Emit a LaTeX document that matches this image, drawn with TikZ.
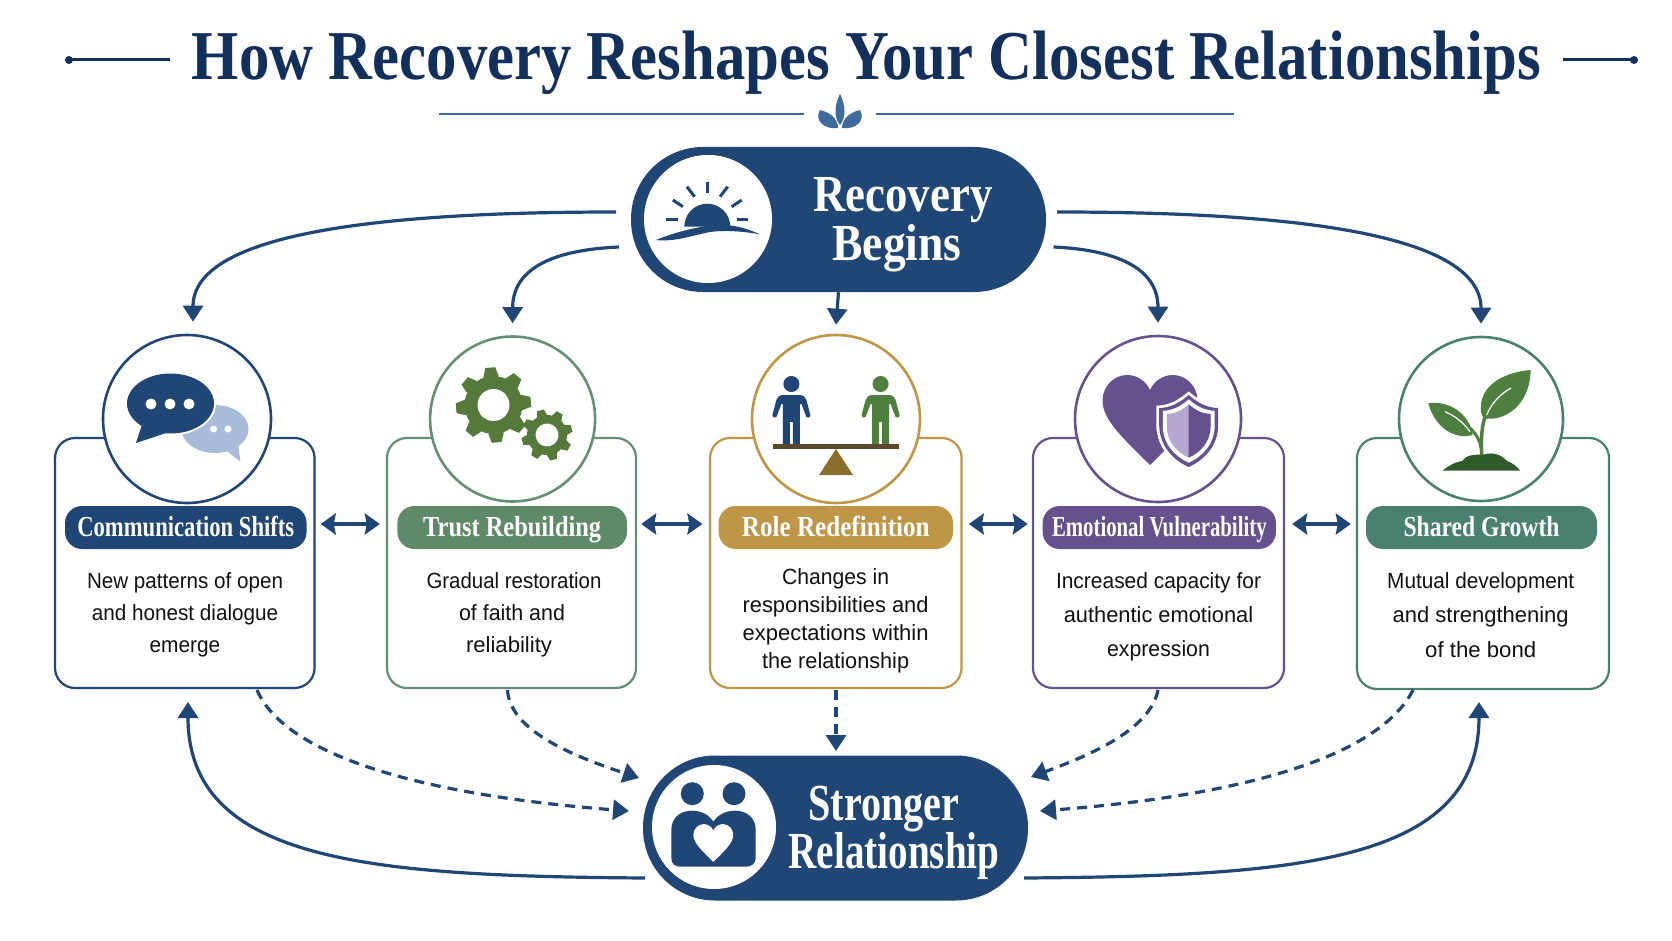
\documentclass[tikz,border=0pt]{standalone}
\usepackage{graphicx}
\usepackage{fontspec}
\setmainfont{Liberation Sans}
\newfontfamily\headf{Liberation Serif}
\usetikzlibrary{arrows.meta,shapes.geometric}
\definecolor{navy}{HTML}{1F4675}
\definecolor{titlec}{HTML}{13305C}
\definecolor{decor}{HTML}{3F6A9C}
\definecolor{lightb}{HTML}{A8BCD9}
\definecolor{cardg}{HTML}{658F74}
\definecolor{pillg}{HTML}{5F8A69}
\definecolor{gearg}{HTML}{54793A}
\definecolor{gold}{HTML}{BF9646}
\definecolor{goldd}{HTML}{8A6F2C}
\definecolor{beam}{HTML}{594A2E}
\definecolor{purp}{HTML}{66518F}
\definecolor{purpl}{HTML}{B5A7D0}
\definecolor{teal}{HTML}{4A8070}
\definecolor{leaf}{HTML}{4F7F3E}
\definecolor{soil}{HTML}{2E5A2C}
\definecolor{inkc}{HTML}{111111}
\newcommand\fitw[2]{\resizebox{#1pt}{\height}{#2}}
\newcommand\heartp{(0,45) .. controls (-25,20) and (-48,0) .. (-47.5,-20) .. controls (-47,-35) and (-35,-45) .. (-23,-45) .. controls (-13,-45) and (-4,-39) .. (0,-30) .. controls (4,-39) and (13,-45) .. (23,-45) .. controls (35,-45) and (47,-35) .. (47.5,-20) .. controls (48,0) and (25,20) .. (0,45) -- cycle}
\newcommand\shieldp{(0,-36) .. controls (9,-28) and (19,-23) .. (29.5,-23) -- (29.5,-6) .. controls (29.5,14) and (16,29) .. (0,36) .. controls (-16,29) and (-29.5,14) .. (-29.5,-6) -- (-29.5,-23) .. controls (-19,-23) and (-9,-28) .. (0,-36) -- cycle}
\newcommand\gearicon[6]{%
 \begin{scope}[shift={(#1,#2)},rotate=#6]
  \fill[gearg] (0,0) circle (#4);
  \foreach \a in {0,45,...,315}{
   \fill[gearg,rotate=\a] (-.27*#4,-#4+1) -- (-.17*#4,-#3) -- (.17*#4,-#3) -- (.27*#4,-#4+1) -- cycle;}
  \fill[white] (0,0) circle (#5);
 \end{scope}}
\newcommand\person[2]{%
 \begin{scope}[shift={(#1,0)}]
  \fill[#2] (0,384) circle (8);
  \fill[#2] (-8,395) -- (8,395) .. controls (12,395) and (14,397) .. (15,400) -- (19,415) -- (18,417.5) -- (15,417) -- (10,404) -- (8.5,404) -- (8.5,445) -- (1.5,445) -- (1.5,422) -- (-1.5,422) -- (-1.5,445) -- (-8.5,445) -- (-8.5,404) -- (-10,404) -- (-15,417) -- (-18,417.5) -- (-19,415) -- (-15,400) .. controls (-14,397) and (-12,395) .. (-8,395) -- cycle;
 \end{scope}}
\tikzset{
 x=1pt,y=-1pt,
 mainpill/.style={rounded corners=72pt,fill=navy,draw=none,minimum height=145pt,inner sep=0pt},
 iconcirc/.style={circle,fill=white,draw=none,inner sep=0pt},
 maintext/.style={text=white,inner sep=0pt,align=center,font=\headf\bfseries\fontsize{52}{48}\selectfont},
 card/.style={rounded corners=20pt,draw=#1,fill=white,line width=2.2pt,minimum height=250pt,inner sep=0pt},
 badge/.style={circle,draw=#1,fill=white,line width=2.6pt,inner sep=0pt},
 tagpill/.style={rounded corners=17pt,fill=#1,minimum height=43pt,inner sep=0pt,text=white,text height=23pt,text depth=6pt,font=\headf\bfseries\fontsize{29}{34}\selectfont},
 bodytext/.style={inner sep=0pt,align=center,text=inkc,font=\fontsize{22}{#1}\selectfont},
 flow/.style={draw=navy,line width=3.2pt,-{Triangle[length=16pt,width=20pt]}},
 dashflow/.style={draw=navy,line width=3.2pt,dash pattern=on 10pt off 7pt,-{Triangle[length=16pt,width=20pt]}},
 twoway/.style={draw=navy,line width=3.5pt,{Stealth[length=15pt,width=21pt,inset=2pt]}-{Stealth[length=15pt,width=21pt,inset=2pt]}},
 rule/.style={draw=titlec,line width=3pt},
 rulethin/.style={draw=decor,line width=2pt},
}
\begin{document}
\begin{tikzpicture}
\useasboundingbox (0,0) rectangle (1672,941);
\fill[white] (0,0) rectangle (1672,941);
% title
\node[anchor=base,inner sep=0pt,text=titlec,font=\headf\bfseries\fontsize{70}{72}\selectfont] (title) at (866.5,80) {\fitw{1349}{How Recovery Reshapes Your Closest Relationships}};
\draw[rule] (69,60) -- (170,60);
\fill[titlec] (69,60) circle (4);
\draw[rule] (1563,60) -- (1634,60);
\fill[titlec] (1634,60) circle (4);
\draw[rulethin] (439,114) -- (804,114);
\draw[rulethin] (875.5,114) -- (1234,114);
\fill[decor] (840,94) .. controls (834,106) and (834,118) .. (840,125) .. controls (846,118) and (846,106) .. (840,94) -- cycle;
\fill[decor] (820,110) .. controls (814,120) and (824,130) .. (838,128) .. controls (838,120) and (832,113) .. (820,110) -- cycle;
\fill[decor] (860,110) .. controls (866,120) and (856,130) .. (842,128) .. controls (842,120) and (848,113) .. (860,110) -- cycle;
% main pills
\node[mainpill,minimum width=415pt] (rec) at (838.5,219.5) {};
\node[iconcirc,minimum size=128pt] (recicon) at (708,219) {};
\node[maintext] (rectxt) at (900,222) {\rule{0pt}{40pt}\hspace*{6pt}\fitw{179}{Recovery}\\\hspace*{-6pt}\fitw{129}{Begins}\rule[-12pt]{0pt}{12pt}};
\node[mainpill,minimum width=385pt] (str) at (835.5,828) {};
\node[iconcirc,minimum size=124pt] (stricon) at (714,827) {};
\node[maintext] (strtxt) at (889,830) {\rule{0pt}{40pt}\hspace*{-10pt}\fitw{151}{Stronger}\\\hspace*{10pt}\fitw{211}{Relationship}\rule[-12pt]{0pt}{12pt}};
% sun icon
\fill[navy] (684.3,226.7) arc[start angle=180,end angle=360,radius=23] -- cycle;
\foreach \xa/\ya/\xb/\yb in {707.3/181.7/707.3/193,720/196.7/727.7/186.7,731.7/206.7/741.7/200,736.7/219.3/748.3/219.3,694.6/196.7/686.9/186.7,682.9/206.7/672.9/200,677.9/219.3/666.3/219.3}
 \draw[navy,line width=3pt] (\xa,\ya) -- (\xb,\yb);
\fill[white] (680,230) rectangle (735,227);
\fill[navy] (656,240) .. controls (680,230) and (710,224) .. (725,225) .. controls (740,226) and (750,230) .. (760,234.3) .. controls (740,231) and (725,230) .. (710,232) .. controls (690,236) and (675,242) .. (656,240) -- cycle;
% couple icon
\foreach \cx in {692.3,734}{\fill[navy] (\cx,793.7) circle (11.5);}
\fill[navy] (671.3,830) .. controls (671.3,818) and (680,810.7) .. (692,810.7) .. controls (702,810.7) and (709,815) .. (713.3,821.7) .. controls (718,815) and (725,810.7) .. (735,810.7) .. controls (747,810.7) and (755.7,818) .. (755.7,830) -- (755.7,858) .. controls (755.7,864) and (751,866.7) .. (746,866.7) -- (681,866.7) .. controls (675,866.7) and (671.3,864) .. (671.3,858) -- cycle;
\begin{scope}[shift={(713.3,843)},scale=.42]
 \fill[white] \heartp;
\end{scope}
% cards
\node[card=navy,minimum width=259.5pt] (c1) at (184.8,563) {};
\node[card=cardg,minimum width=249pt] (c2) at (511.5,563) {};
\node[card=gold,minimum width=251.5pt] (c3) at (835.8,563) {};
\node[card=purp,minimum width=251pt] (c4) at (1158.5,563) {};
\node[card=teal,minimum width=252pt,minimum height=251pt] (c5) at (1483,563.5) {};
\node[badge=navy,minimum size=168pt] (b1) at (187,419) {};
\node[badge=cardg,minimum size=165pt] (b2) at (512.6,419) {};
\node[badge=gold,minimum size=168pt] (b3) at (836,419) {};
\node[badge=purp,minimum size=166pt] (b4) at (1158,419) {};
\node[badge=teal,minimum size=164pt] (b5) at (1481,419) {};
\node[tagpill=navy,minimum width=241.5pt] (p1) at (185.8,527.5) {\fitw{217}{Communication Shifts}};
\node[tagpill=pillg,minimum width=229.6pt] (p2) at (512.2,527.5) {\fitw{178}{Trust Rebuilding}};
\node[tagpill=gold,minimum width=234.4pt] (p3) at (835.8,527.5) {\fitw{187.7}{Role Redefinition}};
\node[tagpill=purp,minimum width=233.3pt] (p4) at (1159.3,527.5) {\fitw{214.6}{Emotional Vulnerability}};
\node[tagpill=teal,minimum width=231pt] (p5) at (1481.5,527.5) {\fitw{156}{Shared Growth}};
\node[bodytext=32pt] (t1) at (185,614) {\rule{0pt}{18pt}\fitw{196}{New patterns of open}\\\fitw{186.5}{and honest dialogue}\\\fitw{70.7}{emerge}\rule[-6pt]{0pt}{6pt}};
\node[bodytext=32pt] (t2) at (512,614) {\rule{0pt}{18pt}\hspace*{4pt}\fitw{175}{Gradual restoration}\\\fitw{106}{of faith and}\\\hspace*{-6pt}\fitw{86}{reliability}\rule[-6pt]{0pt}{6pt}};
\node[bodytext=27.7pt] (t3) at (835.6,620.5) {\rule{0pt}{18pt}\fitw{107}{Changes in}\\\fitw{186}{responsibilities and}\\\fitw{186}{expectations within}\\\fitw{147}{the relationship}\rule[-6pt]{0pt}{6pt}};
\node[bodytext=34pt] (t4) at (1158.5,616) {\rule{0pt}{18pt}\fitw{205}{Increased capacity for}\\\fitw{189.4}{authentic emotional}\\\fitw{102.7}{expression}\rule[-6pt]{0pt}{6pt}};
\node[bodytext=34.5pt] (t5) at (1480.7,616.5) {\rule{0pt}{18pt}\fitw{187}{Mutual development}\\\fitw{176}{and strengthening}\\\fitw{111}{of the bond}\rule[-6pt]{0pt}{6pt}};
% speech bubbles
\fill[lightb] (215,429) ellipse (33.5 and 24);
\fill[lightb] (225.7,450) -- (240.4,461.7) -- (238,443) -- cycle;
\fill[white] (213.5,429) circle (3.5);
\fill[white] (228,429) circle (3.5);
\draw[white,line width=4pt] (170.5,403.5) ellipse (43.5 and 30);
\fill[navy] (170.5,403.5) ellipse (43.5 and 30);
\fill[navy] (141.5,426) -- (136,443) -- (169,432) -- cycle;
\foreach \dx in {151,170,189}{\fill[white] (\dx,404) circle (5.5);}
% gears
\gearicon{493.5}{405}{37.5}{29}{16}{5}
\gearicon{547}{435}{25.5}{20}{11.5}{15}
% seesaw
\person{791.4}{navy}
\person{880.6}{leaf}
\fill[beam] (773,444.3) rectangle (899,449);
\fill[goldd] (836,449) -- (853,475) -- (819,475) -- cycle;
% heart and shield
\begin{scope}[shift={(1150,420)}]
 \fill[purp] \heartp;
\end{scope}
\begin{scope}[shift={(1188.7,431)}]
 \begin{scope}[scale=1.1]\fill[white] \shieldp;\end{scope}
 \fill[purp] \shieldp;
 \begin{scope}[scale=.88]\fill[white] \shieldp;\end{scope}
 \begin{scope}[scale=.74]
  \fill[purpl] \shieldp;
  \clip (0,-40) rectangle (40,40);
  \fill[purp] \shieldp;
 \end{scope}
\end{scope}
% plant
\fill[leaf] (1428.3,403.3) .. controls (1450,400) and (1470,415) .. (1472.7,435) .. controls (1455,440) and (1435,428) .. (1428.3,403.3) -- cycle;
\fill[leaf] (1530.7,370) .. controls (1505,372) and (1478,385) .. (1481,412) -- (1483.3,418.3) .. controls (1505,422) and (1530,405) .. (1530.7,370) -- cycle;
\draw[leaf,line width=3.5pt] (1481.7,456) .. controls (1481,440) and (1481,425) .. (1487,412);
\draw[leaf,line width=3pt] (1481,448) .. controls (1480,440) and (1476,434) .. (1470,428);
\draw[white,line width=1.2pt] (1445,411.7) .. controls (1455,416) and (1463,422) .. (1470,431.7);
\draw[white,line width=1.2pt] (1511,388) .. controls (1500,394) and (1491,404) .. (1486.7,415);
\fill[soil] (1442.3,470.7) .. controls (1450,465) and (1455,462) .. (1462,461) .. controls (1466,455) and (1475,454) .. (1482,455) .. controls (1490,452) and (1500,453) .. (1507,461) .. controls (1512,463) and (1517,466) .. (1520,470.7) -- cycle;
% top flows
\coordinate (s1) at (616,212);
\coordinate (s2) at (619,247);
\coordinate (s4) at (1053.5,247);
\coordinate (s5) at (1057,212);
\draw[flow,shorten >=12pt] (s1) .. controls (370,212) and (193,235) .. ([xshift=6pt]b1.north);
\draw[flow,shorten >=12pt] (s2) .. controls (550,250) and (512.6,270) .. (b2.north);
\draw[flow] (rec.south) -- ([yshift=9pt]b3.north);
\draw[flow,shorten >=12pt] (s4) .. controls (1120,250) and (1158,270) .. (b4.north);
\draw[flow,shorten >=12pt] (s5) .. controls (1300,212) and (1481,235) .. (b5.north);
% two-way
\draw[twoway,shorten <=14pt,shorten >=17.4pt] ([yshift=3.5pt]p1.east) -- ([yshift=3.5pt]p2.west);
\draw[twoway,shorten <=14pt,shorten >=16pt] ([yshift=3.5pt]p2.east) -- ([yshift=3.5pt]p3.west);
\draw[twoway,shorten <=15.6pt,shorten >=14.7pt] ([yshift=3.5pt]p3.east) -- ([yshift=3.5pt]p4.west);
\draw[twoway,shorten <=16pt,shorten >=15pt] ([yshift=3.5pt]p4.east) -- ([yshift=3.5pt]p5.west);
% bottom flows
\coordinate (e1) at (629,811);
\coordinate (e2) at (639,778);
\coordinate (e3) at (836,751);
\coordinate (e4) at (1031,777);
\coordinate (e5) at (1040,811);
\coordinate (d1) at (257,690);
\coordinate (d2) at (507.5,690);
\coordinate (d3) at (836,690);
\coordinate (d4) at (1158,690);
\coordinate (d5) at (1413,690);
\draw[dashflow] (d1) .. controls (285,755) and (420,795) .. (e1);
\draw[dashflow] (d2) .. controls (510,730) and (570,755) .. (e2);
\draw[dashflow] (d3) -- (e3);
\draw[dashflow] (d4) .. controls (1150,730) and (1090,755) .. (e4);
\draw[dashflow] (d5) .. controls (1380,755) and (1249,795) .. (e5);
\coordinate (g1) at (645,878);
\coordinate (g2) at (1024,878);
\coordinate (u1) at (188,702);
\coordinate (u2) at (1479,702);
\draw[flow] (g1) .. controls (370,876) and (188,862) .. (u1);
\draw[flow] (g2) .. controls (1300,876) and (1479,862) .. (u2);
\end{tikzpicture}
\end{document}
